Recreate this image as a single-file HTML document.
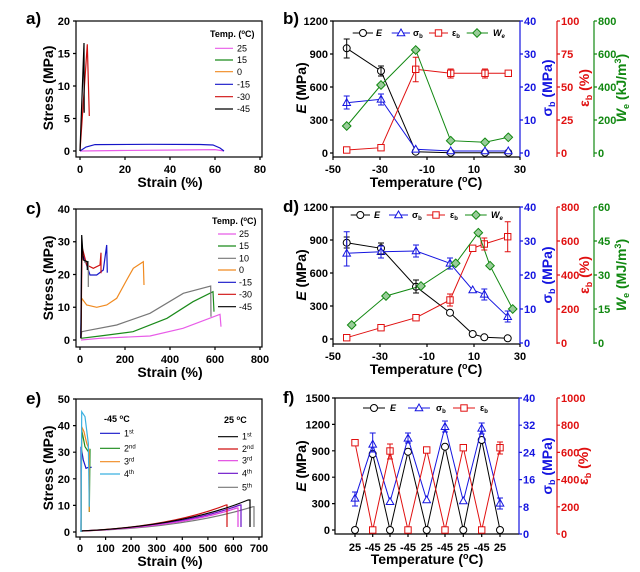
<!DOCTYPE html>
<html><head><meta charset="utf-8"><style>
html,body{margin:0;padding:0;background:#fff}
svg{display:block;font-family:"Liberation Sans",sans-serif;font-weight:bold}
.t{font-size:11px}
.ax{font-size:14px}
.pl{font-size:17px}
.lg{font-size:9px;font-weight:normal}
</style></head><body>
<svg width="640" height="572" viewBox="0 0 640 572" xmlns="http://www.w3.org/2000/svg">
<defs>
<marker id="mc" viewBox="-5 -5 10 10" markerWidth="10" markerHeight="10" markerUnits="userSpaceOnUse"><circle r="3.5" fill="#fff" stroke="#000" stroke-width="1"/></marker>
<marker id="mt" viewBox="-5 -5 10 10" markerWidth="10" markerHeight="10" markerUnits="userSpaceOnUse"><path d="M0,-4L3.8,2.8L-3.8,2.8Z" fill="#fff" stroke="#1515e0" stroke-width="1"/></marker>
<marker id="ms" viewBox="-5 -5 10 10" markerWidth="10" markerHeight="10" markerUnits="userSpaceOnUse"><rect x="-3.2" y="-3.2" width="6.4" height="6.4" fill="#fff" stroke="#e01010" stroke-width="1"/></marker>
<marker id="md" viewBox="-5 -5 10 10" markerWidth="10" markerHeight="10" markerUnits="userSpaceOnUse"><path d="M0,-4.3L4.3,0L0,4.3L-4.3,0Z" fill="#9c9" stroke="#118811" stroke-width="1"/></marker>
</defs>
<g fill="none" stroke-width="1.2">
<!-- ===== panel a ===== -->
<rect x="76" y="21" width="186" height="136" stroke="#000"/>
<path stroke="#000" d="M80,157v3M125,157v3M170,157v3M215,157v3M260,157v3M76,151h-3M76,118.5h-3M76,86h-3M76,53.5h-3M76,21h-3"/>
<polyline stroke="#e85ce8" points="80,151 120,150.5 180,150 215,149.6 224,151"/>
<polyline stroke="#1515c8" points="80,151 86,147 95,144.6 150,144.3 200,144.5 213,145 220,148 224,151"/>
<polyline stroke="#d01010" points="80,151 87.3,44.3 89.3,116"/>
<polyline stroke="#000" points="80,151 84,43 84.2,112.7"/>
<!-- legend a -->
<path stroke="#e85ce8" d="M215,48.3h18"/><path stroke="#1a8a1a" d="M215,60h18"/><path stroke="#f08a20" d="M215,71.7h18"/>
<path stroke="#1515c8" d="M215,84.3h18"/><path stroke="#d01010" d="M215,96.7h18"/><path stroke="#000" d="M215,109h18"/>
<!-- ===== panel c ===== -->
<rect x="76" y="209" width="186" height="138" stroke="#000"/>
<path stroke="#000" d="M80,347v3M125,347v3M170,347v3M215,347v3M260,347v3M76,340h-3M76,307.25h-3M76,274.5h-3M76,241.75h-3M76,209h-3"/>
<polyline stroke="#e85ce8" points="81,340 100,338.3 150,336 183,328.3 220,314.3 221,326.7"/>
<polyline stroke="#1a8a1a" points="81,338.3 100,336 133,331.7 167,318.3 193,301.7 213,291.7 214,311.7"/>
<polyline stroke="#777" points="81,338 81.7,331.7 86.7,330.7 116.7,325 150,313.3 183.3,293.3 210.7,286 211,316.7"/>
<polyline stroke="#f08a20" points="80.7,338.3 81.7,298.3 86.7,305 96.7,307.3 106.7,305 116.7,298.3 126.7,280 133.3,268.3 143.3,261.7 144,285"/>
<polyline stroke="#1515c8" points="80.7,338.3 81.7,253.3 85,260 90,275 96.7,275 103.3,270 106.7,245 107.3,272.7"/>
<polyline stroke="#d01010" points="81,338.3 82,246.7 86.7,265 93.3,268.3 100,265 101,252.7 101,273.3"/>
<polyline stroke="#777" points="84,262 88.3,261.7 88.3,287"/>
<polyline stroke="#000" points="81,338.3 81.7,235 83.3,260 87.3,261.7 87.3,270"/>
<path stroke="#e85ce8" d="M218,234h18"/><path stroke="#1a8a1a" d="M218,246h18"/><path stroke="#777" d="M218,258.3h18"/>
<path stroke="#f08a20" d="M218,270h18"/><path stroke="#1515c8" d="M218,282.3h18"/><path stroke="#d01010" d="M218,294.3h18"/><path stroke="#000" d="M218,306.7h18"/>
<!-- ===== panel e ===== -->
<rect x="76" y="399" width="186" height="138" stroke="#000"/>
<path stroke="#000" d="M80,537v3M105.6,537v3M131.1,537v3M156.7,537v3M182.3,537v3M207.9,537v3M233.4,537v3M259,537v3M76,532h-3M76,505.4h-3M76,478.8h-3M76,452.2h-3M76,425.6h-3M76,399h-3"/>
<path stroke="#777" d="M81,531 Q185,528 253,506.7 L254,506.7 254,527"/>
<path stroke="#6a10c8" d="M81,531 Q180,527 240,505 L241,505 241,527"/>
<path stroke="#e040e0" d="M81,531 Q180,527 237,508 L238,508 238,527"/>
<path stroke="#d01010" d="M81,531 Q170,527 226,505 L227,505 227,527"/>
<path stroke="#000" d="M81,531 Q185,526 248,500 L250,500 250,527"/>
<polyline stroke="#1515c8" points="81,531.7 81,446.7 83.3,460 86,468.3 88.3,467.3 91.7,467.3"/>
<polyline stroke="#1a8a1a" points="81,532 81.7,430 85,446.7 88.3,451.7 90,450 89.3,512"/>
<polyline stroke="#f08a20" points="81,532 81.7,426.7 84,431.7 86.7,443.3 89.3,450 89.3,511.7"/>
<polyline stroke="#3ab0e0" points="81,532 81.7,411.7 85,416.7 88.3,443.3 89.3,506.7"/>
<path stroke="#1515c8" d="M100,433.3h20"/><path stroke="#1a8a1a" d="M100,448.3h20"/><path stroke="#f08a20" d="M100,461.7h20"/><path stroke="#3ab0e0" d="M100,474h20"/>
<path stroke="#000" d="M218,436.7h20"/><path stroke="#d01010" d="M218,449h20"/><path stroke="#e040e0" d="M218,460.7h20"/><path stroke="#6a10c8" d="M218,473.3h20"/><path stroke="#777" d="M218,487.3h20"/>
<!-- ===== panel b ===== -->
<path stroke="#000" d="M520,157H333V21H520"/>
<path stroke="#1515e0" d="M520,21V157"/>
<path stroke="#000" d="M333,157v3M380,157v3M427,157v3M474,157v3M520,157v3M333,153h-3M333,120h-3M333,87h-3M333,54h-3M333,21h-3"/>
<path stroke="#1515e0" d="M520,153h3M520,120h3M520,87h3M520,54h3M520,21h3"/>
<path stroke="#e01010" d="M557,21V157M557,153h3M557,120h3M557,87h3M557,54h3M557,21h3"/>
<path stroke="#118811" d="M594,21V157M594,153h3M594,120h3M594,87h3M594,54h3M594,21h3"/>
<g stroke-width="1">
<polyline stroke="#000" marker-start="url(#mc)" marker-mid="url(#mc)" marker-end="url(#mc)" points="346.7,48.3 381,71 415.7,151.7 450.7,152.7 485,152.7 508.3,152.7"/>
<polyline stroke="#1515e0" marker-start="url(#mt)" marker-mid="url(#mt)" marker-end="url(#mt)" points="346.7,102.7 381,99.3 415.7,149.3 450.7,151 485,151 508.3,151"/>
<polyline stroke="#e01010" marker-start="url(#ms)" marker-mid="url(#ms)" marker-end="url(#ms)" points="346.7,150 381,147.7 415.7,69.3 450.7,73.3 485,73.3 508.3,73.3"/>
<polyline stroke="#118811" marker-start="url(#md)" marker-mid="url(#md)" marker-end="url(#md)" points="346.7,126 381,85 415.7,50 450.7,140.7 485,142.3 508.3,137.3"/>
<path stroke="#000" d="M346.7,39v19M343.7,39h6M343.7,58h6M381,66v10M378,66h6M378,76h6"/>
<path stroke="#1515e0" d="M346.7,96v13M343.7,96h6M343.7,109h6M381,94v11M378,94h6M378,105h6"/>
<path stroke="#e01010" d="M415.7,57.3v24.4M412.7,57.3h6M412.7,81.7h6M450.7,69v9M447.7,69h6M447.7,78h6M485,69v9M482,69h6M482,78h6"/>
<polyline stroke="#000" marker-mid="url(#mc)" points="352.7,33 363,33 373,33"/>
<polyline stroke="#1515e0" marker-mid="url(#mt)" points="391.7,33 401,33 410,33"/>
<polyline stroke="#e01010" marker-mid="url(#ms)" points="429,33 438.5,33 448,33"/>
<polyline stroke="#118811" marker-mid="url(#md)" points="466.7,33 477,33 488,33"/>
</g>
<!-- ===== panel d ===== -->
<path stroke="#000" d="M520,344H333V207H520"/>
<path stroke="#1515e0" d="M520,207V344"/>
<path stroke="#000" d="M333,344v3M380,344v3M427,344v3M474,344v3M520,344v3M333,339h-3M333,306h-3M333,273h-3M333,240h-3M333,207h-3"/>
<path stroke="#1515e0" d="M520,343h3M520,309h3M520,275h3M520,241h3M520,207h3"/>
<path stroke="#e01010" d="M557,207V344M557,343h3M557,309h3M557,275h3M557,241h3M557,207h3"/>
<path stroke="#118811" d="M594,207V344M594,343h3M594,309h3M594,275h3M594,241h3M594,207h3"/>
<g stroke-width="1">
<polyline stroke="#000" marker-start="url(#mc)" marker-mid="url(#mc)" marker-end="url(#mc)" points="346.7,242.7 381,248.3 416,286.7 450,312.7 472.7,334 484.3,337.3 507.7,338.3"/>
<polyline stroke="#1515e0" marker-start="url(#mt)" marker-mid="url(#mt)" marker-end="url(#mt)" points="346.7,253.3 381,251.7 416,251 450,263.3 472.7,290 484.3,294.3 507.7,316.7"/>
<polyline stroke="#e01010" marker-start="url(#ms)" marker-mid="url(#ms)" marker-end="url(#ms)" points="346.7,337.7 381,327.7 416,317.7 450,300 472.7,248.3 484.3,244 507.7,236.7"/>
<polyline stroke="#118811" marker-start="url(#md)" marker-mid="url(#md)" marker-end="url(#md)" points="351.7,325 386,296 421,286 455.7,263.3 478.3,232.7 490,265.7 512.7,309"/>
<path stroke="#000" d="M346.7,237v11M343.7,237h6M343.7,248h6M381,243v11M378,243h6M378,254h6M416,280v13M413,280h6M413,293h6"/>
<path stroke="#1515e0" d="M346.7,231.7v34.3M343.7,231.7h6M343.7,266h6M381,246v12M378,246h6M378,258h6M416,245v12M413,245h6M413,257h6M450,258v11M447,258h6M447,269h6M484.3,289v11M481.3,289h6M481.3,300h6M507.7,311v11M504.7,311h6M504.7,322h6"/>
<path stroke="#e01010" d="M450,294v12M447,294h6M447,306h6M484.3,238v12M481.3,238h6M481.3,250h6M507.7,221.7v30M504.7,221.7h6M504.7,251.7h6"/>
<polyline stroke="#000" marker-mid="url(#mc)" points="350.7,215 360.3,215 370,215"/>
<polyline stroke="#1515e0" marker-mid="url(#mt)" points="389,215 398.5,215 408,215"/>
<polyline stroke="#e01010" marker-mid="url(#ms)" points="426.7,215 436,215 445,215"/>
<polyline stroke="#118811" marker-mid="url(#md)" points="465,215 476,215 486.7,215"/>
</g>
<!-- ===== panel f ===== -->
<path stroke="#000" d="M519,534H335V398H519"/>
<path stroke="#1515e0" d="M519,398V534"/>
<path stroke="#000" d="M355,534v3M372.7,534v3M390,534v3M408,534v3M426.7,534v3M445,534v3M463.3,534v3M481.7,534v3M500,534v3M335,530h-3M335,503.6h-3M335,477.2h-3M335,450.8h-3M335,424.4h-3M335,398h-3"/>
<path stroke="#1515e0" d="M519,534h3M519,506.8h3M519,479.6h3M519,452.4h3M519,425.2h3M519,398h3"/>
<path stroke="#e01010" d="M557,398V534M557,534h3M557,506.8h3M557,479.6h3M557,452.4h3M557,425.2h3M557,398h3"/>
<g stroke-width="1">
<polyline stroke="#000" marker-start="url(#mc)" marker-mid="url(#mc)" marker-end="url(#mc)" points="355,530 372.7,454 390,530 408,451.7 426.7,530 445,446.7 463.3,530 481.7,440 500,530"/>
<polyline stroke="#1515e0" marker-start="url(#mt)" marker-mid="url(#mt)" marker-end="url(#mt)" points="355,498.3 372.7,444.3 390,501.7 408,438.3 426.7,500 445,426.7 463.3,501 481.7,428.3 500,503.3"/>
<polyline stroke="#e01010" marker-start="url(#ms)" marker-mid="url(#ms)" marker-end="url(#ms)" points="355,442.7 372.7,530 390,451 408,530 426.7,450 445,530 463.3,447.7 481.7,530 500,447.7"/>
<path stroke="#1515e0" d="M355,492v14M352,492h6M352,506h6M372.7,433v19M369.7,433h6M369.7,452h6M408,433v10M405,433h6M405,443h6M445,421v11M442,421h6M442,432h6M481.7,423v11M478.7,423h6M478.7,434h6M500,498v11M497,498h6M497,509h6"/>
<path stroke="#e01010" d="M390,444v15M387,444h6M387,459h6M500,442v12M497,442h6M497,454h6"/>
<polyline stroke="#000" marker-mid="url(#mc)" points="363,408 374,408 385,408"/>
<polyline stroke="#1515e0" marker-mid="url(#mt)" points="408,408 419,408 430,408"/>
<polyline stroke="#e01010" marker-mid="url(#ms)" points="453,408 464,408 475,408"/>
</g>
</g>

<!-- ===== TEXT ===== -->
<g fill="#000">
<text class="pl" x="26" y="24">a)</text>
<text class="pl" x="283" y="24">b)</text>
<text class="pl" x="26" y="214">c)</text>
<text class="pl" x="283" y="212">d)</text>
<text class="pl" x="26" y="404">e)</text>
<text class="pl" x="283" y="403">f)</text>

<!-- a ticks -->
<g class="t" text-anchor="middle"><text x="80" y="173">0</text><text x="125" y="173">20</text><text x="170" y="173">40</text><text x="215" y="173">60</text><text x="260" y="173">80</text></g>
<g class="t" text-anchor="end"><text x="70" y="155">0</text><text x="70" y="122.5">5</text><text x="70" y="90">10</text><text x="70" y="57.5">15</text><text x="70" y="25">20</text></g>
<text class="ax" x="170" y="187" text-anchor="middle">Strain (%)</text>
<text class="ax" transform="translate(53,88) rotate(-90)" text-anchor="middle">Stress (MPa)</text>
<text x="210" y="37" font-size="9">Temp. (<tspan dy="-3" font-size="6">o</tspan><tspan dy="3">C)</tspan></text>
<g class="lg"><text x="237" y="51.5">25</text><text x="237" y="63">15</text><text x="237" y="75">0</text><text x="237" y="87.5">-15</text><text x="237" y="100">-30</text><text x="237" y="112">-45</text></g>

<!-- c ticks -->
<g class="t" text-anchor="middle"><text x="80" y="363">0</text><text x="125" y="363">200</text><text x="170" y="363">400</text><text x="215" y="363">600</text><text x="260" y="363">800</text></g>
<g class="t" text-anchor="end"><text x="70" y="344">0</text><text x="70" y="311">10</text><text x="70" y="278.5">20</text><text x="70" y="245.5">30</text><text x="70" y="213">40</text></g>
<text class="ax" x="170" y="377" text-anchor="middle">Strain (%)</text>
<text class="ax" transform="translate(53,278) rotate(-90)" text-anchor="middle">Stress (MPa)</text>
<text x="212" y="224" font-size="9">Temp. (<tspan dy="-3" font-size="6">o</tspan><tspan dy="3">C)</tspan></text>
<g class="lg"><text x="239" y="237">25</text><text x="239" y="249">15</text><text x="239" y="261.5">10</text><text x="239" y="273">0</text><text x="239" y="285.5">-15</text><text x="239" y="297.5">-30</text><text x="239" y="310">-45</text></g>

<!-- e ticks -->
<g class="t" text-anchor="middle"><text x="80" y="552">0</text><text x="105.6" y="552">100</text><text x="131.1" y="552">200</text><text x="156.7" y="552">300</text><text x="182.3" y="552">400</text><text x="207.9" y="552">500</text><text x="233.4" y="552">600</text><text x="259" y="552">700</text></g>
<g class="t" text-anchor="end"><text x="70" y="536">0</text><text x="70" y="509.4">10</text><text x="70" y="482.8">20</text><text x="70" y="456.2">30</text><text x="70" y="429.6">40</text><text x="70" y="403">50</text></g>
<text class="ax" x="170" y="566" text-anchor="middle">Strain (%)</text>
<text class="ax" transform="translate(53,468) rotate(-90)" text-anchor="middle">Stress (MPa)</text>
<text x="104" y="422" font-size="9">-45 <tspan dy="-3" font-size="6">o</tspan><tspan dy="3">C</tspan></text>
<text x="224" y="423" font-size="9">25 <tspan dy="-3" font-size="6">o</tspan><tspan dy="3">C</tspan></text>
<g class="lg"><text x="124" y="436.3">1<tspan dy="-3" font-size="6">st</tspan></text><text x="124" y="451.3">2<tspan dy="-3" font-size="6">nd</tspan></text><text x="124" y="464.7">3<tspan dy="-3" font-size="6">rd</tspan></text><text x="124" y="477">4<tspan dy="-3" font-size="6">th</tspan></text>
<text x="242" y="439.7">1<tspan dy="-3" font-size="6">st</tspan></text><text x="242" y="452">2<tspan dy="-3" font-size="6">nd</tspan></text><text x="242" y="463.7">3<tspan dy="-3" font-size="6">rd</tspan></text><text x="242" y="476.3">4<tspan dy="-3" font-size="6">th</tspan></text><text x="242" y="490.3">5<tspan dy="-3" font-size="6">th</tspan></text></g>

<!-- b ticks -->
<g class="t" text-anchor="middle"><text x="333" y="173">-50</text><text x="380" y="173">-30</text><text x="427" y="173">-10</text><text x="474" y="173">10</text><text x="520" y="173">30</text></g>
<g class="t" text-anchor="end"><text x="328" y="157">0</text><text x="328" y="124">300</text><text x="328" y="91">600</text><text x="328" y="58">900</text><text x="328" y="25">1200</text></g>
<g class="t" fill="#1515e0"><text x="524" y="157">0</text><text x="524" y="124">10</text><text x="524" y="91">20</text><text x="524" y="58">30</text><text x="524" y="25">40</text></g>
<g class="t" fill="#e01010"><text x="561" y="157">0</text><text x="561" y="124">25</text><text x="561" y="91">50</text><text x="561" y="58">75</text><text x="561" y="25">100</text></g>
<g class="t" fill="#118811"><text x="598" y="157">0</text><text x="598" y="124">200</text><text x="598" y="91">400</text><text x="598" y="58">600</text><text x="598" y="25">800</text></g>
<text class="ax" x="426" y="187" text-anchor="middle">Temperature (<tspan dy="-5" font-size="9">o</tspan><tspan dy="5">C)</tspan></text>
<text class="ax" transform="translate(306,88) rotate(-90)" text-anchor="middle"><tspan font-style="italic">E</tspan> (MPa)</text>
<text class="ax" fill="#1515e0" transform="translate(552,88) rotate(-90)" text-anchor="middle">σ<tspan dy="3" font-size="9">b</tspan><tspan dy="-3"> (MPa)</tspan></text>
<text class="ax" fill="#e01010" transform="translate(589,88) rotate(-90)" text-anchor="middle">ε<tspan dy="3" font-size="9">b</tspan><tspan dy="-3"> (%)</tspan></text>
<text class="ax" fill="#118811" transform="translate(626,88) rotate(-90)" text-anchor="middle"><tspan font-style="italic">W</tspan><tspan dy="3" font-size="9">e</tspan><tspan dy="-3"> (kJ/m</tspan><tspan dy="-5" font-size="9">3</tspan><tspan dy="5">)</tspan></text>
<g font-size="9"><text x="376" y="36" font-style="italic">E</text><text x="413" y="36">σ<tspan dy="2" font-size="6">b</tspan></text><text x="452" y="36" fill="#000">ε<tspan dy="2" font-size="6">b</tspan></text><text x="493" y="36" font-style="italic">W<tspan dy="2" font-size="6">e</tspan></text></g>

<!-- d ticks -->
<g class="t" text-anchor="middle"><text x="333" y="360">-50</text><text x="380" y="360">-30</text><text x="427" y="360">-10</text><text x="474" y="360">10</text><text x="520" y="360">30</text></g>
<g class="t" text-anchor="end"><text x="328" y="343">0</text><text x="328" y="310">300</text><text x="328" y="277">600</text><text x="328" y="244">900</text><text x="328" y="211">1200</text></g>
<g class="t" fill="#1515e0"><text x="524" y="347">0</text><text x="524" y="313">10</text><text x="524" y="279">20</text><text x="524" y="245">30</text><text x="524" y="211">40</text></g>
<g class="t" fill="#e01010"><text x="561" y="347">0</text><text x="561" y="313">200</text><text x="561" y="279">400</text><text x="561" y="245">600</text><text x="561" y="211">800</text></g>
<g class="t" fill="#118811"><text x="598" y="347">0</text><text x="598" y="313">15</text><text x="598" y="279">30</text><text x="598" y="245">45</text><text x="598" y="211">60</text></g>
<text class="ax" x="426" y="374" text-anchor="middle">Temperature (<tspan dy="-5" font-size="9">o</tspan><tspan dy="5">C)</tspan></text>
<text class="ax" transform="translate(306,275) rotate(-90)" text-anchor="middle"><tspan font-style="italic">E</tspan> (MPa)</text>
<text class="ax" fill="#1515e0" transform="translate(552,275) rotate(-90)" text-anchor="middle">σ<tspan dy="3" font-size="9">b</tspan><tspan dy="-3"> (MPa)</tspan></text>
<text class="ax" fill="#e01010" transform="translate(589,275) rotate(-90)" text-anchor="middle">ε<tspan dy="3" font-size="9">b</tspan><tspan dy="-3"> (%)</tspan></text>
<text class="ax" fill="#118811" transform="translate(626,275) rotate(-90)" text-anchor="middle"><tspan font-style="italic">W</tspan><tspan dy="3" font-size="9">e</tspan><tspan dy="-3"> (MJ/m</tspan><tspan dy="-5" font-size="9">3</tspan><tspan dy="5">)</tspan></text>
<g font-size="9"><text x="374" y="218" font-style="italic">E</text><text x="412" y="218">σ<tspan dy="2" font-size="6">b</tspan></text><text x="450" y="218">ε<tspan dy="2" font-size="6">b</tspan></text><text x="491" y="218" font-style="italic">W<tspan dy="2" font-size="6">e</tspan></text></g>

<!-- f ticks -->
<g class="t" text-anchor="middle"><text x="355" y="551">25</text><text x="372.7" y="551">-45</text><text x="390" y="551">25</text><text x="408" y="551">-45</text><text x="426.7" y="551">25</text><text x="445" y="551">-45</text><text x="463.3" y="551">25</text><text x="481.7" y="551">-45</text><text x="500" y="551">25</text></g>
<g class="t" text-anchor="end"><text x="330" y="534">0</text><text x="330" y="507.6">300</text><text x="330" y="481.2">600</text><text x="330" y="454.8">900</text><text x="330" y="428.4">1200</text><text x="330" y="402">1500</text></g>
<g class="t" fill="#1515e0"><text x="523" y="538">0</text><text x="523" y="510.8">8</text><text x="523" y="483.6">16</text><text x="523" y="456.4">24</text><text x="523" y="429.2">32</text><text x="523" y="402">40</text></g>
<g class="t" fill="#e01010"><text x="561" y="538">0</text><text x="561" y="510.8">200</text><text x="561" y="483.6">400</text><text x="561" y="456.4">600</text><text x="561" y="429.2">800</text><text x="561" y="402">1000</text></g>
<text class="ax" x="427" y="564" text-anchor="middle">Temperature (<tspan dy="-5" font-size="9">o</tspan><tspan dy="5">C)</tspan></text>
<text class="ax" transform="translate(306,466) rotate(-90)" text-anchor="middle"><tspan font-style="italic">E</tspan> (MPa)</text>
<text class="ax" fill="#1515e0" transform="translate(552,466) rotate(-90)" text-anchor="middle">σ<tspan dy="3" font-size="9">b</tspan><tspan dy="-3"> (MPa)</tspan></text>
<text class="ax" fill="#e01010" transform="translate(588,466) rotate(-90)" text-anchor="middle">ε<tspan dy="3" font-size="9">b</tspan><tspan dy="-3"> (%)</tspan></text>
<g font-size="9"><text x="390" y="411" font-style="italic">E</text><text x="436" y="411">σ<tspan dy="2" font-size="6">b</tspan></text><text x="480" y="411">ε<tspan dy="2" font-size="6">b</tspan></text></g>
</g>
</svg>
</body></html>
